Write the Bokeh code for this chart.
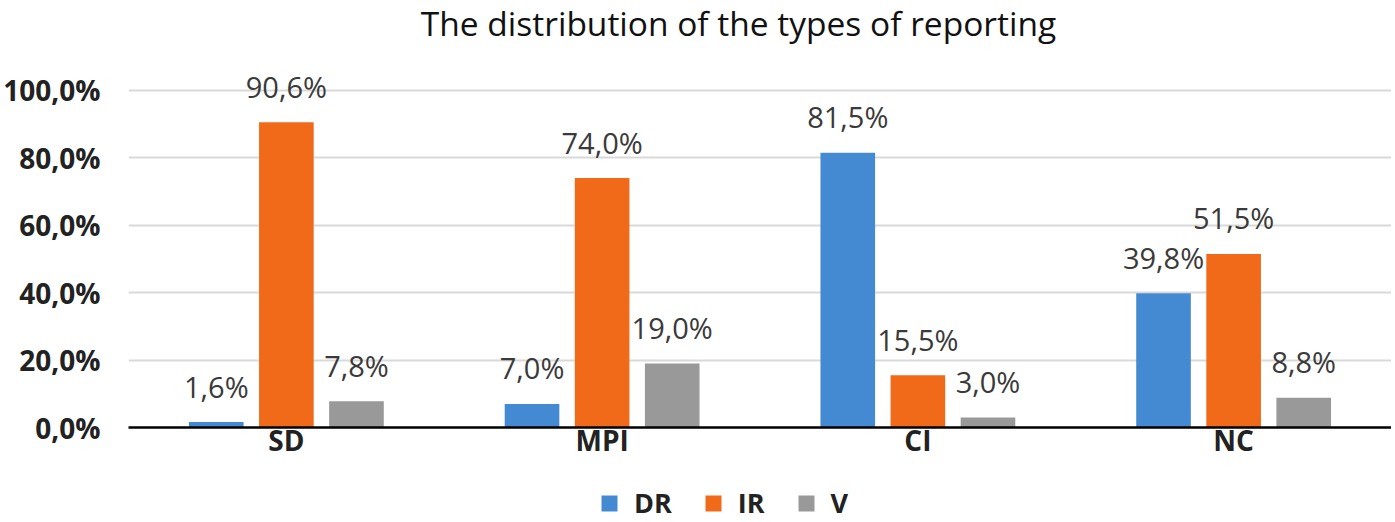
from bokeh.plotting import figure
from bokeh.models import (ColumnDataSource, FactorRange, Range1d, FixedTicker,
                          CustomJSTickFormatter, Legend, LegendItem, Label)
from bokeh.layouts import column
from bokeh.transform import dodge
from bokeh.core.properties import value
from bokeh.embed import file_html
from bokeh.resources import INLINE

categories = ["SD", "MPI", "CI", "NC"]
dr_values = [1.6, 7.0, 81.5, 39.8]
ir_values = [90.6, 74.0, 15.5, 51.5]
v_values = [7.8, 19.0, 3.0, 8.8]
series_names = ["DR", "IR", "V"]
y_ticks = [0, 20, 40, 60, 80, 100]
title_text = "The distribution of the types of reporting"

colors = ["#448AD2", "#F06A1A", "#999999"]
FONT = "Open Sans"

def fmt(v):
    return f"{v:.1f}%".replace(".", ",")

src = ColumnDataSource(data=dict(
    cat=categories,
    DR=dr_values, IR=ir_values, V=v_values,
    DR_lbl=[fmt(v) for v in dr_values],
    IR_lbl=[fmt(v) for v in ir_values],
    V_lbl=[fmt(v) for v in v_values],
))

W = 1391
p = figure(width=W, height=466, output_backend="svg", toolbar_location=None,
           x_range=FactorRange(*categories, range_padding=0),
           y_range=Range1d(0, 126.7),
           min_border_left=123, min_border_right=0, min_border_top=0,
           min_border_bottom=39)
p.outline_line_color = None
p.background_fill_color = "white"

p.add_layout(Label(text=title_text, x=610, y=405, x_units="screen",
                   y_units="screen", text_align="center",
                   text_baseline="middle", text_font=FONT,
                   text_font_size="33.5px", text_color="#111111"))

offsets = [-0.222, 0.0, 0.222]
for name, off, col in zip(series_names, offsets, colors):
    p.vbar(x=dodge("cat", off, range=p.x_range), top=name, width=0.173,
           source=src, fill_color=col, line_color=None)
    p.text(x=dodge("cat", off, range=p.x_range), y=name, text=name + "_lbl",
           source=src, text_align="center", text_baseline="middle",
           y_offset=-36, text_font=value(FONT), text_font_size="29px",
           text_color="#3a3a3a")

p.yaxis.ticker = FixedTicker(ticks=y_ticks)
p.yaxis.formatter = CustomJSTickFormatter(
    code="return tick.toFixed(1).replace('.', ',') + '%';")
p.yaxis.axis_line_color = None
p.yaxis.major_tick_line_color = None
p.yaxis.minor_tick_line_color = None
p.yaxis.major_label_standoff = 22
p.yaxis.major_label_text_font = FONT
p.yaxis.major_label_text_font_size = "28px"
p.yaxis.major_label_text_font_style = "bold"
p.yaxis.major_label_text_color = "#222222"

p.xaxis.axis_line_color = "black"
p.xaxis.axis_line_width = 2.5
p.xaxis.major_tick_line_color = None
p.xaxis.minor_tick_line_color = None
p.xaxis.major_label_standoff = -13
p.xaxis.major_label_text_font = FONT
p.xaxis.major_label_text_font_size = "28px"
p.xaxis.major_label_text_font_style = "bold"
p.xaxis.major_label_text_color = "#222222"

p.xgrid.grid_line_color = None
p.ygrid.grid_line_color = "#D9D9D9"
p.ygrid.grid_line_width = 2

# legend strip below the chart (its bars lie outside its visible y-range,
# only the legend swatches show)
lg = figure(width=W, height=56, output_backend="svg", toolbar_location=None,
            x_axis_type=None, y_axis_type=None, min_border=0,
            x_range=FactorRange(*categories, range_padding=0),
            y_range=Range1d(500, 501))
lg.outline_line_color = None
lg.xgrid.grid_line_color = None
lg.ygrid.grid_line_color = None
items = []
for name, off, col in zip(series_names, offsets, colors):
    r = lg.vbar(x=dodge("cat", off, range=lg.x_range), top=name, width=0.173,
                source=src, fill_color=col, line_color=None)
    items.append(LegendItem(label=name, renderers=[r]))
legend = Legend(items=items, orientation="horizontal", location=(471, 1),
                glyph_width=20, glyph_height=20, label_standoff=15, spacing=31,
                padding=0, margin=0, border_line_color=None,
                background_fill_alpha=0, label_text_font=FONT,
                label_text_font_size="27px", label_text_font_style="bold",
                label_text_color="#222222", label_height=20)
lg.add_layout(legend, "center")

layout = column(p, lg, spacing=0)
open("out.html", "w").write(file_html(layout, INLINE))
